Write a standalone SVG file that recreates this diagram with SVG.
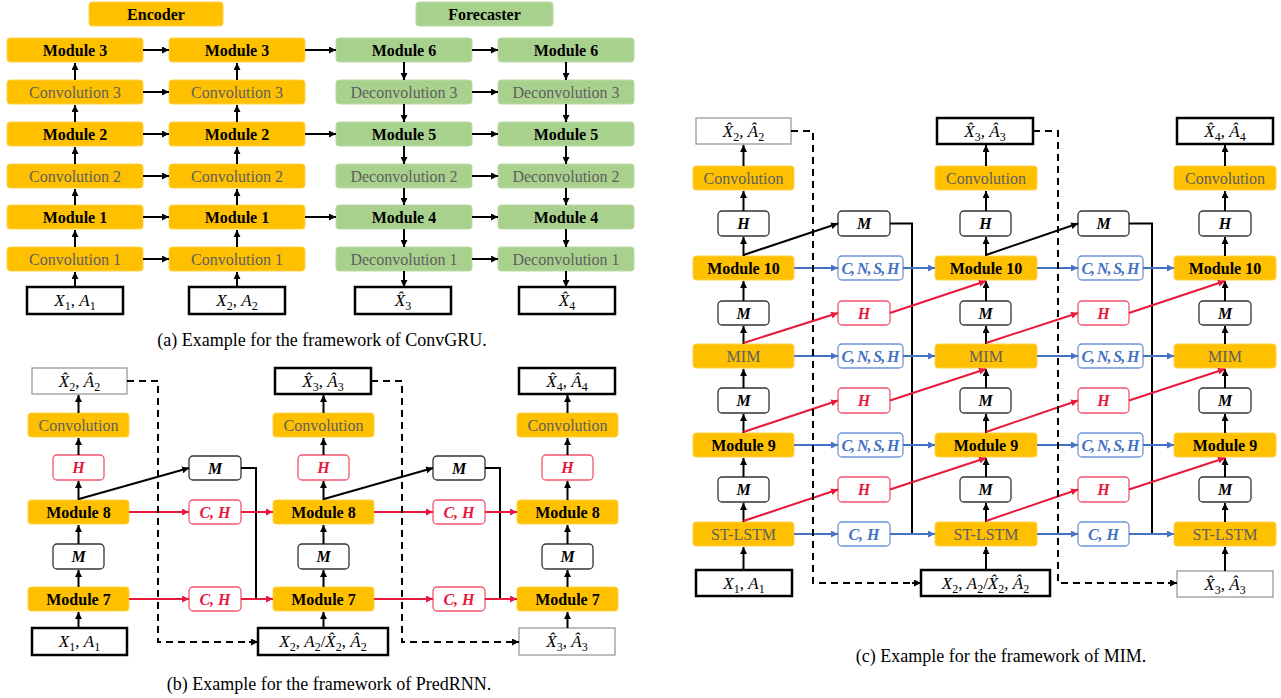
<svg xmlns="http://www.w3.org/2000/svg" width="1281" height="698" viewBox="0 0 1281 698">
<style>
.org{fill:#FFC000;stroke:#FFD24A;stroke-width:1}
.grn{fill:#A9D18E;stroke:#BBDBA5;stroke-width:1}
.bx{fill:#fff;stroke:#333;stroke-width:1.3}
.rbx{fill:#fff;stroke:#F2566C;stroke-width:1.3}
.bbx{fill:#fff;stroke:#6E94D8;stroke-width:1.3}
.io{fill:#fff;stroke:#000;stroke-width:2.5}
.iog{fill:#fff;stroke:#999;stroke-width:1.3}
text{font-family:"Liberation Serif",serif;font-size:16px;text-anchor:middle;fill:#000}
.m{font-size:17px}
.s{font-size:12px}
.b{font-weight:bold}
.g{fill:#5f5f5f}
.mi{font-weight:bold;font-style:italic}
.i{font-style:italic}
.rt{fill:#E8193C}
.bt{fill:#4472C4}
.cap{font-size:18px}
.k{stroke:#000;stroke-width:2;fill:none}
.kd{stroke:#000;stroke-width:2;fill:none;stroke-dasharray:7,5}
.r{stroke:#E8193C;stroke-width:2;fill:none}
.bl{stroke:#4472C4;stroke-width:2;fill:none}
.ak{marker-end:url(#mk)}
.ar{marker-end:url(#mr)}
.ab{marker-end:url(#mb)}
</style>
<defs>
<marker id="mk" markerUnits="userSpaceOnUse" markerWidth="8" markerHeight="7" refX="7" refY="3.5" orient="auto"><path d="M0,0 L7,3.5 L0,7 z" fill="#000"/></marker>
<marker id="mr" markerUnits="userSpaceOnUse" markerWidth="8" markerHeight="7" refX="7" refY="3.5" orient="auto"><path d="M0,0 L7,3.5 L0,7 z" fill="#E8193C"/></marker>
<marker id="mb" markerUnits="userSpaceOnUse" markerWidth="8" markerHeight="7" refX="7" refY="3.5" orient="auto"><path d="M0,0 L7,3.5 L0,7 z" fill="#4472C4"/></marker>
</defs>
<rect width="1281" height="698" fill="#fff"/>

<!-- ================= Panel (a) ================= -->
<g id="encoder-label"><rect class="org" x="89" y="2" width="134" height="24" rx="3"/><text class="b" x="156" y="19.5">Encoder</text></g>
<g id="forecaster-label"><rect class="grn" x="416" y="2" width="137" height="24" rx="3"/><text class="b" x="484.5" y="19.5">Forecaster</text></g>

<g id="a-c1-m3"><rect class="org" x="7" y="38" width="136" height="24" rx="3"/><text class="b" x="75" y="55.5">Module 3</text></g>
<g id="a-c1-cv3"><rect class="org" x="7" y="80" width="136" height="24" rx="3"/><text class="g" x="75" y="97.5">Convolution 3</text></g>
<g id="a-c1-m2"><rect class="org" x="7" y="122" width="136" height="24" rx="3"/><text class="b" x="75" y="139.5">Module 2</text></g>
<g id="a-c1-cv2"><rect class="org" x="7" y="164" width="136" height="24" rx="3"/><text class="g" x="75" y="181.5">Convolution 2</text></g>
<g id="a-c1-m1"><rect class="org" x="7" y="205" width="136" height="24" rx="3"/><text class="b" x="75" y="222.5">Module 1</text></g>
<g id="a-c1-cv1"><rect class="org" x="7" y="247" width="136" height="24" rx="3"/><text class="g" x="75" y="264.5">Convolution 1</text></g>
<g id="a-c1-in"><rect class="io" x="27" y="287" width="96" height="27"/><text class="m" x="75" y="306"><tspan class="i">X</tspan><tspan dy="4" class="s">1</tspan><tspan dy="-4">, </tspan><tspan class="i">A</tspan><tspan dy="4" class="s">1</tspan></text></g>

<g id="a-c2-m3"><rect class="org" x="169" y="38" width="136" height="24" rx="3"/><text class="b" x="237" y="55.5">Module 3</text></g>
<g id="a-c2-cv3"><rect class="org" x="169" y="80" width="136" height="24" rx="3"/><text class="g" x="237" y="97.5">Convolution 3</text></g>
<g id="a-c2-m2"><rect class="org" x="169" y="122" width="136" height="24" rx="3"/><text class="b" x="237" y="139.5">Module 2</text></g>
<g id="a-c2-cv2"><rect class="org" x="169" y="164" width="136" height="24" rx="3"/><text class="g" x="237" y="181.5">Convolution 2</text></g>
<g id="a-c2-m1"><rect class="org" x="169" y="205" width="136" height="24" rx="3"/><text class="b" x="237" y="222.5">Module 1</text></g>
<g id="a-c2-cv1"><rect class="org" x="169" y="247" width="136" height="24" rx="3"/><text class="g" x="237" y="264.5">Convolution 1</text></g>
<g id="a-c2-in"><rect class="io" x="189" y="287" width="96" height="27"/><text class="m" x="237" y="306"><tspan class="i">X</tspan><tspan dy="4" class="s">2</tspan><tspan dy="-4">, </tspan><tspan class="i">A</tspan><tspan dy="4" class="s">2</tspan></text></g>

<g id="a-c3-m6"><rect class="grn" x="336" y="38" width="136" height="24" rx="3"/><text class="b" x="404" y="55.5">Module 6</text></g>
<g id="a-c3-dc3"><rect class="grn" x="336" y="80" width="136" height="24" rx="3"/><text class="g" x="404" y="97.5">Deconvolution 3</text></g>
<g id="a-c3-m5"><rect class="grn" x="336" y="122" width="136" height="24" rx="3"/><text class="b" x="404" y="139.5">Module 5</text></g>
<g id="a-c3-dc2"><rect class="grn" x="336" y="164" width="136" height="24" rx="3"/><text class="g" x="404" y="181.5">Deconvolution 2</text></g>
<g id="a-c3-m4"><rect class="grn" x="336" y="205" width="136" height="24" rx="3"/><text class="b" x="404" y="222.5">Module 4</text></g>
<g id="a-c3-dc1"><rect class="grn" x="336" y="247" width="136" height="24" rx="3"/><text class="g" x="404" y="264.5">Deconvolution 1</text></g>
<g id="a-c3-out"><rect class="io" x="355" y="287" width="96" height="27"/><text class="m" x="403" y="306"><tspan class="i">X̂</tspan><tspan dy="4" class="s">3</tspan></text></g>

<g id="a-c4-m6"><rect class="grn" x="498" y="38" width="136" height="24" rx="3"/><text class="b" x="566" y="55.5">Module 6</text></g>
<g id="a-c4-dc3"><rect class="grn" x="498" y="80" width="136" height="24" rx="3"/><text class="g" x="566" y="97.5">Deconvolution 3</text></g>
<g id="a-c4-m5"><rect class="grn" x="498" y="122" width="136" height="24" rx="3"/><text class="b" x="566" y="139.5">Module 5</text></g>
<g id="a-c4-dc2"><rect class="grn" x="498" y="164" width="136" height="24" rx="3"/><text class="g" x="566" y="181.5">Deconvolution 2</text></g>
<g id="a-c4-m4"><rect class="grn" x="498" y="205" width="136" height="24" rx="3"/><text class="b" x="566" y="222.5">Module 4</text></g>
<g id="a-c4-dc1"><rect class="grn" x="498" y="247" width="136" height="24" rx="3"/><text class="g" x="566" y="264.5">Deconvolution 1</text></g>
<g id="a-c4-out"><rect class="io" x="519" y="287" width="96" height="27"/><text class="m" x="567" y="306"><tspan class="i">X̂</tspan><tspan dy="4" class="s">4</tspan></text></g>

<text class="cap" x="322" y="346">(a) Example for the framework of ConvGRU.</text>

<g id="a-connectors">
<path class="k ak" d="M75,287 V272"/><path class="k ak" d="M75,247 V230"/><path class="k ak" d="M75,205 V189"/><path class="k ak" d="M75,164 V147"/><path class="k ak" d="M75,122 V105"/><path class="k ak" d="M75,80 V63"/>
<path class="k ak" d="M237,287 V272"/><path class="k ak" d="M237,247 V230"/><path class="k ak" d="M237,205 V189"/><path class="k ak" d="M237,164 V147"/><path class="k ak" d="M237,122 V105"/><path class="k ak" d="M237,80 V63"/>
<path class="k ak" d="M404,62 V80"/><path class="k ak" d="M404,104 V122"/><path class="k ak" d="M404,146 V164"/><path class="k ak" d="M404,188 V205"/><path class="k ak" d="M404,229 V247"/><path class="k ak" d="M404,271 V287"/>
<path class="k ak" d="M566,62 V80"/><path class="k ak" d="M566,104 V122"/><path class="k ak" d="M566,146 V164"/><path class="k ak" d="M566,188 V205"/><path class="k ak" d="M566,229 V247"/><path class="k ak" d="M566,271 V287"/>
<path class="k ak" d="M143,50 H169"/><path class="k ak" d="M143,92 H169"/><path class="k ak" d="M143,134 H169"/><path class="k ak" d="M143,176 H169"/><path class="k ak" d="M143,217 H169"/><path class="k ak" d="M143,259 H169"/>
<path class="k ak" d="M305,50 H336"/><path class="k ak" d="M305,134 H336"/><path class="k ak" d="M305,217 H336"/>
<path class="k ak" d="M472,50 H498"/><path class="k ak" d="M472,92 H498"/><path class="k ak" d="M472,134 H498"/><path class="k ak" d="M472,176 H498"/><path class="k ak" d="M472,217 H498"/><path class="k ak" d="M472,259 H498"/>
</g>

<!-- ================= Panel (b) ================= -->
<g id="b-c1-out"><rect class="iog" x="32" y="368" width="95" height="26"/><text class="m" x="79.5" y="386.5"><tspan class="i">X̂</tspan><tspan dy="4" class="s">2</tspan><tspan dy="-4">, </tspan><tspan class="i">Â</tspan><tspan dy="4" class="s">2</tspan></text></g>
<g id="b-c1-conv"><rect class="org" x="28" y="413" width="101" height="24" rx="3"/><text class="g" x="78.5" y="430.5">Convolution</text></g>
<g id="b-c1-h"><rect class="rbx" x="53" y="455" width="51" height="25" rx="4"/><text class="mi rt" x="78.5" y="473">H</text></g>
<g id="b-c1-m8"><rect class="org" x="28" y="500" width="101" height="24" rx="3"/><text class="b" x="78.5" y="517.5">Module 8</text></g>
<g id="b-c1-m"><rect class="bx" x="53" y="544" width="51" height="25" rx="4"/><text class="mi" x="78.5" y="562">M</text></g>
<g id="b-c1-m7"><rect class="org" x="28" y="587" width="101" height="24" rx="3"/><text class="b" x="78.5" y="604.5">Module 7</text></g>
<g id="b-c1-in"><rect class="io" x="32" y="628" width="95" height="27"/><text class="m" x="79.5" y="647"><tspan class="i">X</tspan><tspan dy="4" class="s">1</tspan><tspan dy="-4">, </tspan><tspan class="i">A</tspan><tspan dy="4" class="s">1</tspan></text></g>

<g id="b-m1-m"><rect class="bx" x="189" y="456" width="52" height="24" rx="4"/><text class="mi" x="215" y="473.5">M</text></g>
<g id="b-m1-ch8"><rect class="rbx" x="189" y="500" width="52" height="24" rx="4"/><text class="mi rt" x="215" y="517.5">C, H</text></g>
<g id="b-m1-ch7"><rect class="rbx" x="189" y="587" width="52" height="24" rx="4"/><text class="mi rt" x="215" y="604.5">C, H</text></g>

<g id="b-c2-out"><rect class="io" x="275" y="368" width="96" height="26"/><text class="m" x="323" y="386.5"><tspan class="i">X̂</tspan><tspan dy="4" class="s">3</tspan><tspan dy="-4">, </tspan><tspan class="i">Â</tspan><tspan dy="4" class="s">3</tspan></text></g>
<g id="b-c2-conv"><rect class="org" x="273" y="413" width="101" height="24" rx="3"/><text class="g" x="323.5" y="430.5">Convolution</text></g>
<g id="b-c2-h"><rect class="rbx" x="298" y="455" width="51" height="25" rx="4"/><text class="mi rt" x="323.5" y="473">H</text></g>
<g id="b-c2-m8"><rect class="org" x="273" y="500" width="101" height="24" rx="3"/><text class="b" x="323.5" y="517.5">Module 8</text></g>
<g id="b-c2-m"><rect class="bx" x="298" y="544" width="51" height="25" rx="4"/><text class="mi" x="323.5" y="562">M</text></g>
<g id="b-c2-m7"><rect class="org" x="273" y="587" width="101" height="24" rx="3"/><text class="b" x="323.5" y="604.5">Module 7</text></g>
<g id="b-c2-in"><rect class="io" x="258" y="628" width="130" height="27"/><text class="m" x="323" y="647"><tspan class="i">X</tspan><tspan dy="4" class="s">2</tspan><tspan dy="-4">, </tspan><tspan class="i">A</tspan><tspan dy="4" class="s">2</tspan><tspan dy="-4">/</tspan><tspan class="i">X̂</tspan><tspan dy="4" class="s">2</tspan><tspan dy="-4">, </tspan><tspan class="i">Â</tspan><tspan dy="4" class="s">2</tspan></text></g>

<g id="b-m2-m"><rect class="bx" x="433" y="456" width="52" height="24" rx="4"/><text class="mi" x="459" y="473.5">M</text></g>
<g id="b-m2-ch8"><rect class="rbx" x="433" y="500" width="52" height="24" rx="4"/><text class="mi rt" x="459" y="517.5">C, H</text></g>
<g id="b-m2-ch7"><rect class="rbx" x="433" y="587" width="52" height="24" rx="4"/><text class="mi rt" x="459" y="604.5">C, H</text></g>

<g id="b-c3-out"><rect class="io" x="519" y="368" width="96" height="26"/><text class="m" x="567" y="386.5"><tspan class="i">X̂</tspan><tspan dy="4" class="s">4</tspan><tspan dy="-4">, </tspan><tspan class="i">Â</tspan><tspan dy="4" class="s">4</tspan></text></g>
<g id="b-c3-conv"><rect class="org" x="517" y="413" width="101" height="24" rx="3"/><text class="g" x="567.5" y="430.5">Convolution</text></g>
<g id="b-c3-h"><rect class="rbx" x="542" y="455" width="51" height="25" rx="4"/><text class="mi rt" x="567.5" y="473">H</text></g>
<g id="b-c3-m8"><rect class="org" x="517" y="500" width="101" height="24" rx="3"/><text class="b" x="567.5" y="517.5">Module 8</text></g>
<g id="b-c3-m"><rect class="bx" x="542" y="544" width="51" height="25" rx="4"/><text class="mi" x="567.5" y="562">M</text></g>
<g id="b-c3-m7"><rect class="org" x="517" y="587" width="101" height="24" rx="3"/><text class="b" x="567.5" y="604.5">Module 7</text></g>
<g id="b-c3-in"><rect class="iog" x="519" y="628" width="96" height="27"/><text class="m" x="567" y="647"><tspan class="i">X̂</tspan><tspan dy="4" class="s">3</tspan><tspan dy="-4">, </tspan><tspan class="i">Â</tspan><tspan dy="4" class="s">3</tspan></text></g>

<text class="cap" x="329" y="690">(b) Example for the framework of PredRNN.</text>

<g id="b-connectors">
<path class="k ak" d="M78.5,628 V612"/><path class="k ak" d="M78.5,587 V570"/><path class="k ak" d="M78.5,544 V525"/><path class="k ak" d="M78.5,500 V481"/><path class="k ak" d="M78.5,455 V438"/><path class="k ak" d="M78.5,413 V395"/>
<path class="k ak" d="M323.5,628 V612"/><path class="k ak" d="M323.5,587 V570"/><path class="k ak" d="M323.5,544 V525"/><path class="k ak" d="M323.5,500 V481"/><path class="k ak" d="M323.5,455 V438"/><path class="k ak" d="M323.5,413 V395"/>
<path class="k ak" d="M567.5,628 V612"/><path class="k ak" d="M567.5,587 V570"/><path class="k ak" d="M567.5,544 V525"/><path class="k ak" d="M567.5,500 V481"/><path class="k ak" d="M567.5,455 V438"/><path class="k ak" d="M567.5,413 V395"/>
<path class="k ak" d="M79,499 L189,468"/><path class="k ak" d="M324,499 L433,468"/>
<path class="k" d="M241,468 H256 V599"/><path class="k" d="M485,468 H500 V599"/>
<path class="r ar" d="M129,512 H189"/><path class="r ar" d="M241,512 H273"/><path class="r ar" d="M129,599 H189"/><path class="r ar" d="M241,599 H273"/>
<path class="r ar" d="M374,512 H433"/><path class="r ar" d="M485,512 H517"/><path class="r ar" d="M374,599 H433"/><path class="r ar" d="M485,599 H517"/>
<path class="kd" d="M127,381 H158 V642 H250"/><path class="k ak" d="M249,642 H258"/>
<path class="kd" d="M371,381 H402 V642 H511"/><path class="k ak" d="M510,642 H519"/>
</g>

<!-- ================= Panel (c) ================= -->
<g id="c-c1-out"><rect class="iog" x="696" y="118" width="95" height="26"/><text class="m" x="743.5" y="136.5"><tspan class="i">X̂</tspan><tspan dy="4" class="s">2</tspan><tspan dy="-4">, </tspan><tspan class="i">Â</tspan><tspan dy="4" class="s">2</tspan></text></g>
<g id="c-c1-conv"><rect class="org" x="693" y="166" width="101" height="24" rx="3"/><text class="g" x="743.5" y="183.5">Convolution</text></g>
<g id="c-c1-h"><rect class="bx" x="718" y="211" width="51" height="25" rx="4"/><text class="mi" x="743.5" y="229">H</text></g>
<g id="c-c1-m10"><rect class="org" x="693" y="256" width="101" height="24" rx="3"/><text class="b" x="743.5" y="273.5">Module 10</text></g>
<g id="c-c1-ma"><rect class="bx" x="718" y="301" width="51" height="24" rx="4"/><text class="mi" x="743.5" y="318.5">M</text></g>
<g id="c-c1-mim"><rect class="org" x="693" y="344" width="101" height="24" rx="3"/><text class="g" x="743.5" y="361.5">MIM</text></g>
<g id="c-c1-mb"><rect class="bx" x="718" y="388" width="51" height="25" rx="4"/><text class="mi" x="743.5" y="406">M</text></g>
<g id="c-c1-m9"><rect class="org" x="693" y="433" width="101" height="24" rx="3"/><text class="b" x="743.5" y="450.5">Module 9</text></g>
<g id="c-c1-mc"><rect class="bx" x="718" y="477" width="51" height="25" rx="4"/><text class="mi" x="743.5" y="495">M</text></g>
<g id="c-c1-st"><rect class="org" x="693" y="522" width="101" height="24" rx="3"/><text class="g" x="743.5" y="539.5">ST-LSTM</text></g>
<g id="c-c1-in"><rect class="io" x="696" y="570" width="96" height="26"/><text class="m" x="744" y="588.5"><tspan class="i">X</tspan><tspan dy="4" class="s">1</tspan><tspan dy="-4">, </tspan><tspan class="i">A</tspan><tspan dy="4" class="s">1</tspan></text></g>

<g id="c-m1-m"><rect class="bx" x="838" y="211" width="52" height="25" rx="4"/><text class="mi" x="864" y="229">M</text></g>
<g id="c-m1-cnsh10"><rect class="bbx" x="838" y="256" width="65" height="24" rx="4"/><text class="mi bt" x="870.5" y="273.5" textLength="58" lengthAdjust="spacing">C, N, S, H</text></g>
<g id="c-m1-ha"><rect class="rbx" x="838" y="301" width="52" height="24" rx="4"/><text class="mi rt" x="864" y="318.5">H</text></g>
<g id="c-m1-cnshmim"><rect class="bbx" x="838" y="344" width="65" height="24" rx="4"/><text class="mi bt" x="870.5" y="361.5" textLength="58" lengthAdjust="spacing">C, N, S, H</text></g>
<g id="c-m1-hb"><rect class="rbx" x="838" y="388" width="52" height="25" rx="4"/><text class="mi rt" x="864" y="406">H</text></g>
<g id="c-m1-cnsh9"><rect class="bbx" x="838" y="433" width="65" height="24" rx="4"/><text class="mi bt" x="870.5" y="450.5" textLength="58" lengthAdjust="spacing">C, N, S, H</text></g>
<g id="c-m1-hc"><rect class="rbx" x="838" y="477" width="52" height="25" rx="4"/><text class="mi rt" x="864" y="495">H</text></g>
<g id="c-m1-ch"><rect class="bbx" x="838" y="522" width="52" height="24" rx="4"/><text class="mi bt" x="864" y="539.5">C, H</text></g>

<g id="c-c2-out"><rect class="io" x="937" y="118" width="96" height="26"/><text class="m" x="985" y="136.5"><tspan class="i">X̂</tspan><tspan dy="4" class="s">3</tspan><tspan dy="-4">, </tspan><tspan class="i">Â</tspan><tspan dy="4" class="s">3</tspan></text></g>
<g id="c-c2-conv"><rect class="org" x="935" y="166" width="102" height="24" rx="3"/><text class="g" x="986" y="183.5">Convolution</text></g>
<g id="c-c2-h"><rect class="bx" x="960" y="211" width="51" height="25" rx="4"/><text class="mi" x="985.5" y="229">H</text></g>
<g id="c-c2-m10"><rect class="org" x="935" y="256" width="102" height="24" rx="3"/><text class="b" x="986" y="273.5">Module 10</text></g>
<g id="c-c2-ma"><rect class="bx" x="960" y="301" width="51" height="24" rx="4"/><text class="mi" x="985.5" y="318.5">M</text></g>
<g id="c-c2-mim"><rect class="org" x="935" y="344" width="102" height="24" rx="3"/><text class="g" x="986" y="361.5">MIM</text></g>
<g id="c-c2-mb"><rect class="bx" x="960" y="388" width="51" height="25" rx="4"/><text class="mi" x="985.5" y="406">M</text></g>
<g id="c-c2-m9"><rect class="org" x="935" y="433" width="102" height="24" rx="3"/><text class="b" x="986" y="450.5">Module 9</text></g>
<g id="c-c2-mc"><rect class="bx" x="960" y="477" width="51" height="25" rx="4"/><text class="mi" x="985.5" y="495">M</text></g>
<g id="c-c2-st"><rect class="org" x="935" y="522" width="102" height="24" rx="3"/><text class="g" x="986" y="539.5">ST-LSTM</text></g>
<g id="c-c2-in"><rect class="io" x="921" y="570" width="129" height="26"/><text class="m" x="985.5" y="588.5"><tspan class="i">X</tspan><tspan dy="4" class="s">2</tspan><tspan dy="-4">, </tspan><tspan class="i">A</tspan><tspan dy="4" class="s">2</tspan><tspan dy="-4">/</tspan><tspan class="i">X̂</tspan><tspan dy="4" class="s">2</tspan><tspan dy="-4">, </tspan><tspan class="i">Â</tspan><tspan dy="4" class="s">2</tspan></text></g>

<g id="c-m2-m"><rect class="bx" x="1078" y="211" width="51" height="25" rx="4"/><text class="mi" x="1103.5" y="229">M</text></g>
<g id="c-m2-cnsh10"><rect class="bbx" x="1078" y="256" width="65" height="24" rx="4"/><text class="mi bt" x="1110.5" y="273.5" textLength="58" lengthAdjust="spacing">C, N, S, H</text></g>
<g id="c-m2-ha"><rect class="rbx" x="1078" y="301" width="51" height="24" rx="4"/><text class="mi rt" x="1103.5" y="318.5">H</text></g>
<g id="c-m2-cnshmim"><rect class="bbx" x="1078" y="344" width="65" height="24" rx="4"/><text class="mi bt" x="1110.5" y="361.5" textLength="58" lengthAdjust="spacing">C, N, S, H</text></g>
<g id="c-m2-hb"><rect class="rbx" x="1078" y="388" width="51" height="25" rx="4"/><text class="mi rt" x="1103.5" y="406">H</text></g>
<g id="c-m2-cnsh9"><rect class="bbx" x="1078" y="433" width="65" height="24" rx="4"/><text class="mi bt" x="1110.5" y="450.5" textLength="58" lengthAdjust="spacing">C, N, S, H</text></g>
<g id="c-m2-hc"><rect class="rbx" x="1078" y="477" width="51" height="25" rx="4"/><text class="mi rt" x="1103.5" y="495">H</text></g>
<g id="c-m2-ch"><rect class="bbx" x="1078" y="522" width="51" height="24" rx="4"/><text class="mi bt" x="1103.5" y="539.5">C, H</text></g>

<g id="c-c3-out"><rect class="io" x="1177" y="118" width="96" height="26"/><text class="m" x="1225" y="136.5"><tspan class="i">X̂</tspan><tspan dy="4" class="s">4</tspan><tspan dy="-4">, </tspan><tspan class="i">Â</tspan><tspan dy="4" class="s">4</tspan></text></g>
<g id="c-c3-conv"><rect class="org" x="1174" y="166" width="102" height="24" rx="3"/><text class="g" x="1225" y="183.5">Convolution</text></g>
<g id="c-c3-h"><rect class="bx" x="1199" y="211" width="52" height="25" rx="4"/><text class="mi" x="1225" y="229">H</text></g>
<g id="c-c3-m10"><rect class="org" x="1174" y="256" width="102" height="24" rx="3"/><text class="b" x="1225" y="273.5">Module 10</text></g>
<g id="c-c3-ma"><rect class="bx" x="1199" y="301" width="52" height="24" rx="4"/><text class="mi" x="1225" y="318.5">M</text></g>
<g id="c-c3-mim"><rect class="org" x="1174" y="344" width="102" height="24" rx="3"/><text class="g" x="1225" y="361.5">MIM</text></g>
<g id="c-c3-mb"><rect class="bx" x="1199" y="388" width="52" height="25" rx="4"/><text class="mi" x="1225" y="406">M</text></g>
<g id="c-c3-m9"><rect class="org" x="1174" y="433" width="102" height="24" rx="3"/><text class="b" x="1225" y="450.5">Module 9</text></g>
<g id="c-c3-mc"><rect class="bx" x="1199" y="477" width="52" height="25" rx="4"/><text class="mi" x="1225" y="495">M</text></g>
<g id="c-c3-st"><rect class="org" x="1174" y="522" width="102" height="24" rx="3"/><text class="g" x="1225" y="539.5">ST-LSTM</text></g>
<g id="c-c3-in"><rect class="iog" x="1177" y="571" width="96" height="26"/><text class="m" x="1225" y="589.5"><tspan class="i">X̂</tspan><tspan dy="4" class="s">3</tspan><tspan dy="-4">, </tspan><tspan class="i">Â</tspan><tspan dy="4" class="s">3</tspan></text></g>

<text class="cap" x="1001" y="662">(c) Example for the framework of MIM.</text>

<g id="c-connectors">
<path class="k ak" d="M743.5,570 V547"/><path class="k ak" d="M743.5,522 V503"/><path class="k ak" d="M743.5,477 V458"/><path class="k ak" d="M743.5,433 V414"/><path class="k ak" d="M743.5,388 V369"/><path class="k ak" d="M743.5,344 V326"/><path class="k ak" d="M743.5,301 V281"/><path class="k ak" d="M743.5,256 V237"/><path class="k ak" d="M743.5,211 V191"/><path class="k ak" d="M743.5,166 V145"/>
<path class="k ak" d="M986,570 V547"/><path class="k ak" d="M986,522 V503"/><path class="k ak" d="M986,477 V458"/><path class="k ak" d="M986,433 V414"/><path class="k ak" d="M986,388 V369"/><path class="k ak" d="M986,344 V326"/><path class="k ak" d="M986,301 V281"/><path class="k ak" d="M986,256 V237"/><path class="k ak" d="M986,211 V191"/><path class="k ak" d="M986,166 V145"/>
<path class="k ak" d="M1225,571 V547"/><path class="k ak" d="M1225,522 V503"/><path class="k ak" d="M1225,477 V458"/><path class="k ak" d="M1225,433 V414"/><path class="k ak" d="M1225,388 V369"/><path class="k ak" d="M1225,344 V326"/><path class="k ak" d="M1225,301 V281"/><path class="k ak" d="M1225,256 V237"/><path class="k ak" d="M1225,211 V191"/><path class="k ak" d="M1225,166 V145"/>
<path class="k ak" d="M743.5,255 L838,223.5"/><path class="k" d="M890,223.5 H912 V534"/>
<path class="k ak" d="M986,255 L1078,223.5"/><path class="k" d="M1129,223.5 H1152 V534"/>
<path class="bl ab" d="M794,268 H838"/><path class="bl ab" d="M903,268 H935"/>
<path class="bl ab" d="M794,356 H838"/><path class="bl ab" d="M903,356 H935"/>
<path class="bl ab" d="M794,445 H838"/><path class="bl ab" d="M903,445 H935"/>
<path class="bl ab" d="M794,534 H838"/><path class="bl ab" d="M890,534 H935"/>
<path class="bl ab" d="M1037,268 H1078"/><path class="bl ab" d="M1143,268 H1174"/>
<path class="bl ab" d="M1037,356 H1078"/><path class="bl ab" d="M1143,356 H1174"/>
<path class="bl ab" d="M1037,445 H1078"/><path class="bl ab" d="M1143,445 H1174"/>
<path class="bl ab" d="M1037,534 H1078"/><path class="bl ab" d="M1129,534 H1174"/>
<path class="r ar" d="M743.5,343 L838,313"/><path class="r ar" d="M890,313 L986,281"/>
<path class="r ar" d="M743.5,432 L838,400.5"/><path class="r ar" d="M890,400.5 L986,369"/>
<path class="r ar" d="M743.5,521 L838,489.5"/><path class="r ar" d="M890,489.5 L986,458"/>
<path class="r ar" d="M986,343 L1078,313"/><path class="r ar" d="M1129,313 L1225,281"/>
<path class="r ar" d="M986,432 L1078,400.5"/><path class="r ar" d="M1129,400.5 L1225,369"/>
<path class="r ar" d="M986,521 L1078,489.5"/><path class="r ar" d="M1129,489.5 L1225,458"/>
<path class="kd" d="M791,131 H813 V583 H913"/><path class="k ak" d="M912,583 H921"/>
<path class="kd" d="M1033,131 H1058 V583 H1169"/><path class="k ak" d="M1168,583 H1177"/>
</g>
</svg>
